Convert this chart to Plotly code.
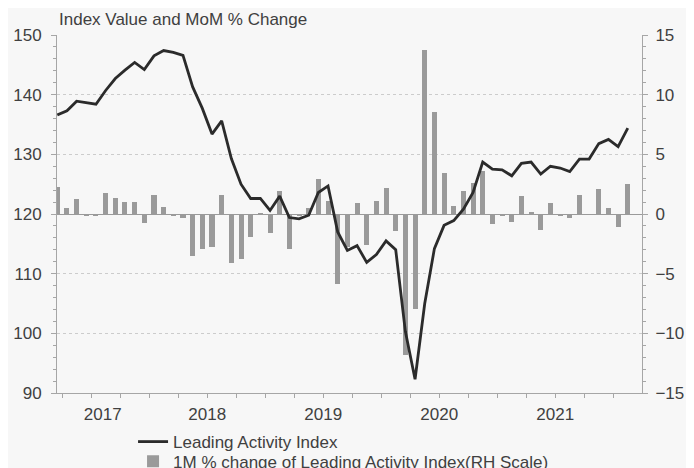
# Leading Activity Index with 1M % change bars (RH scale)
import plotly.graph_objects as go
import pandas as pd

# monthly data, Sep 2016 - Aug 2021
months = pd.date_range("2016-09-01", periods=60, freq="MS").strftime("%b %Y").tolist()

lai = [136.6, 137.3, 138.9, 138.7, 138.4, 140.7, 142.7, 144.1, 145.4, 144.2,
       146.5, 147.4, 147.1, 146.6, 141.3, 137.7, 133.4, 135.6, 129.3, 125.0,
       122.6, 122.6, 120.6, 123.0, 119.4, 119.2, 119.8, 123.6, 124.7, 117.0,
       113.9, 114.7, 111.9, 113.2, 115.5, 114.0, 100.3, 92.3, 105.0, 114.2,
       118.1, 118.9, 120.8, 123.6, 128.7, 127.5, 127.4, 126.4, 128.5, 128.7,
       126.7, 128.0, 127.7, 127.1, 129.2, 129.2, 131.8, 132.5, 131.3, 134.4]

mom = [2.3, 0.47, 1.26, -0.17, -0.11, 1.8, 1.37, 0.98, 1.03, -0.78,
       1.62, 0.59, -0.11, -0.36, -3.49, -2.93, -2.77, 1.62, -4.08, -3.74,
       -1.9, 0.05, -1.62, 1.96, -2.93, -0.15, 0.53, 2.93, 1.09, -5.87,
       -2.74, 0.95, -2.6, 1.09, 2.15, -1.42, -11.8, -7.93, 13.75, 8.55,
       3.41, 0.67, 1.96, 2.57, 3.63, -0.84, -0.14, -0.64, 1.54, 0.17,
       -1.34, 0.89, -0.2, -0.31, 1.59, 0.0, 2.07, 0.53, -1.06, 2.51]

year_labels = ["2017", "2018", "2019", "2020", "2021"]
year_label_pos = [4.7, 15.5, 27.5, 39.5, 51.5]

x = list(range(len(months)))

FONT = "Liberation Sans, Arial, sans-serif"
TXT = "#404040"
AXC = "#a6a6a6"

fig = go.Figure()

# bars on the right scale (primary axis so the line sits on top)
fig.add_trace(go.Bar(
    x=x, y=mom, customdata=months,
    name="1M % change of Leading Activity Index(RH Scale)",
    marker=dict(color="#9a9a9a", line=dict(width=0)),
    width=0.52,
    yaxis="y", legend="legend2",
    hovertemplate="%{customdata}: %{y:.2f}%<extra></extra>",
))

fig.add_trace(go.Scatter(
    x=x, y=lai, customdata=months,
    mode="lines",
    name="Leading Activity Index",
    line=dict(color="#2b2b2b", width=2.8),
    yaxis="y2", legend="legend",
    hovertemplate="%{customdata}: %{y:.1f}<extra></extra>",
))

# page body adds an 8px offset, so the figure is sized to the visible area
fig.update_layout(
    width=686, height=460,
    margin=dict(l=49, r=52, t=27, b=75, autoexpand=False),
    paper_bgcolor="#f7f7f7",
    plot_bgcolor="#f7f7f7",
    font=dict(family=FONT, size=17, color=TXT),
    bargap=0,
    xaxis=dict(
        range=[-0.03, 60.47],
        showline=True, linecolor=AXC, linewidth=1,
        showgrid=False, zeroline=False,
        tickmode="array", tickvals=year_label_pos, ticktext=year_labels,
        ticks="", ticklabelstandoff=6,
        minor=dict(tick0=0.5, dtick=3, ticks="outside", ticklen=4,
                   tickcolor=AXC, showgrid=False),
    ),
    yaxis=dict(
        side="right", range=[-15, 15], dtick=5,
        showline=True, linecolor=AXC, linewidth=1,
        ticks="outside", ticklen=5, tickcolor=AXC,
        minor=dict(dtick=1, ticks="outside", ticklen=3, tickcolor=AXC),
        showgrid=True, gridcolor="#cccccc", griddash="dot", gridwidth=1,
        zeroline=True, zerolinecolor="#9a9a9a", zerolinewidth=1,
        ticklabelstandoff=4,
    ),
    yaxis2=dict(
        side="left", overlaying="y", range=[90, 150], dtick=10,
        showline=True, linecolor=AXC, linewidth=1,
        ticks="outside", ticklen=5, tickcolor=AXC,
        minor=dict(dtick=2, ticks="outside", ticklen=3, tickcolor=AXC),
        showgrid=False, zeroline=False,
        ticklabelstandoff=6,
    ),
    legend=dict(x=0.13, y=-0.137, xanchor="left", yanchor="middle",
                bgcolor="rgba(0,0,0,0)", font=dict(size=17, color=TXT)),
    legend2=dict(x=0.13, y=-0.192, xanchor="left", yanchor="middle",
                 bgcolor="rgba(0,0,0,0)", font=dict(size=17, color=TXT)),
    showlegend=True,
)

fig.add_annotation(
    text="Index Value and MoM % Change",
    xref="paper", yref="paper", x=0, y=1.042,
    xanchor="left", yanchor="middle", showarrow=False,
    font=dict(size=17, color=TXT),
)

fig.write_html("out.html")
